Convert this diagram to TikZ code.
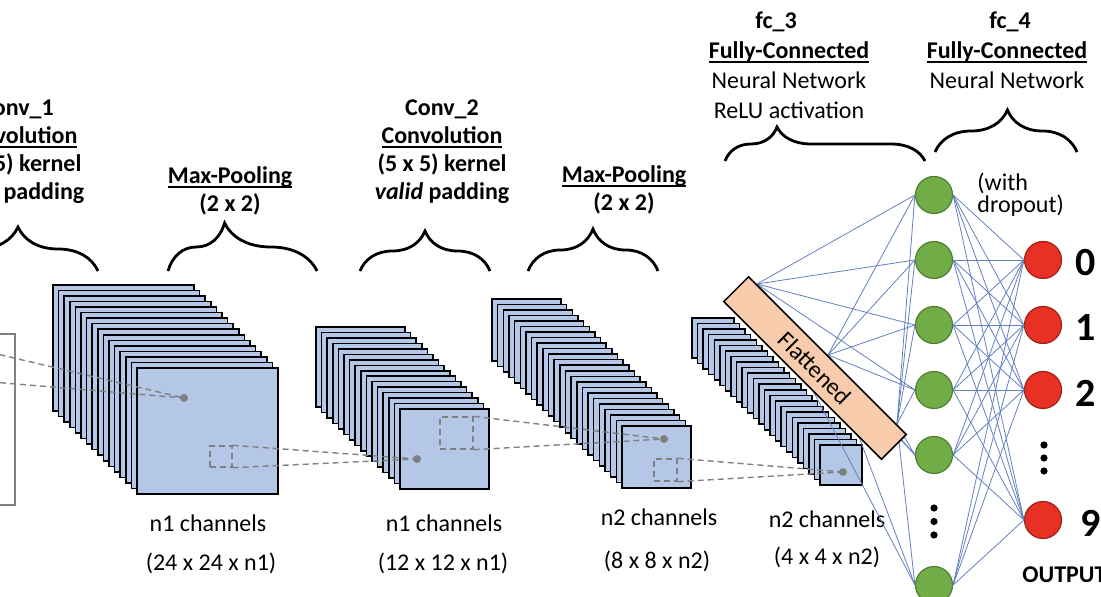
\documentclass[tikz,border=0pt]{standalone}
\usepackage{fontspec}
\setmainfont{Carlito}
\usepackage{tikz}
\usetikzlibrary{decorations.pathreplacing}

\definecolor{layerblue}{RGB}{180,199,231}
\definecolor{flatpeach}{RGB}{248,203,173}
\definecolor{nodegreen}{RGB}{112,173,71}
\definecolor{greenline}{RGB}{80,126,50}
\definecolor{nodered}{RGB}{232,48,36}
\definecolor{redline}{RGB}{160,35,25}
\definecolor{wireblue}{RGB}{98,128,192}
\definecolor{dashgray}{RGB}{128,128,128}

\newsavebox\ulbox
\newcommand{\ulined}[1]{\sbox\ulbox{#1}\rlap{\rule[-2.4pt]{\wd\ulbox}{0.9pt}}\usebox\ulbox}

\begin{document}
\begin{tikzpicture}[x=0.5pt,y=-0.5pt]
      \tikzstyle{every node}=[inner sep=0pt,font=\fontsize{12}{14}\selectfont]
      \tikzstyle{head}=[align=center,anchor=north,font=\bfseries\fontsize{12}{14}\selectfont]
      \tikzstyle{headlight}=[align=center,anchor=north,font=\fontsize{12}{15}\selectfont]
      \tikzstyle{brace}=[decorate,line width=1.4pt]
      \tikzstyle{layer}=[draw=black,fill=layerblue,line width=0.75pt]
      \tikzstyle{dot}=[circle,fill=dashgray,minimum size=4pt]
      \tikzstyle{window}=[draw=dashgray,dash pattern=on 3pt off 2pt,line width=0.7pt]
      \tikzstyle{link}=[draw=dashgray,dash pattern=on 3pt off 2pt,line width=0.7pt]
      \tikzstyle{wire}=[draw=wireblue,line width=0.4pt]
      \tikzstyle{hidden}=[circle,fill=nodegreen,draw=greenline,line width=0.6pt,minimum size=18.5pt]
      \tikzstyle{outnode}=[circle,fill=nodered,draw=redline,line width=0.6pt,minimum size=18.5pt]
      \tikzstyle{digit}=[anchor=west,font=\bfseries\fontsize{20}{20}\selectfont]

      \useasboundingbox (0,0) rectangle (1101,597);
      \clip (0,0) rectangle (1101,597);

      % headings
      \node[head] (conv1) at (17,99) {Conv\_1\\\ulined{Convolution}\\(5 x 5) kernel\\\textit{valid} padding};
      \node[head] (pool1) at (230,166) {\ulined{Max-Pooling}\\(2 x 2)};
      \node[head] (conv2) at (442,99) {Conv\_2\\\ulined{Convolution}\\(5 x 5) kernel\\\textit{valid} padding};
      \node[head] (pool2) at (624,165) {\ulined{Max-Pooling}\\(2 x 2)};
      \node[head] (fc3) at (776,11) {fc\_3};
      \node[headlight] (fc3txt) at (789,41) {\textbf{\ulined{Fully-Connected}}\\Neural Network\\ReLU activation};
      \node[head] (fc4) at (1010,11) {fc\_4};
      \node[headlight] (fc4txt) at (1007,41) {\textbf{\ulined{Fully-Connected}}\\Neural Network};
      \node[align=left,anchor=north west,font=\fontsize{12}{11}\selectfont] (drop) at (977,173) {(with\\dropout)};

      \draw[brace,decoration={brace,amplitude=22pt,aspect=0.5}] (-62,271) -- (98,271);
      \draw[brace,decoration={brace,amplitude=24pt,aspect=0.38}] (168,271) -- (317,271);
      \draw[brace,decoration={brace,amplitude=20pt,aspect=0.5}] (360,271) -- (490,271);
      \draw[brace,decoration={brace,amplitude=21pt,aspect=0.5}] (528,271) -- (658,271);
      \draw[brace,decoration={brace,amplitude=17pt,aspect=0.26}] (725,161) -- (925,161);
      \draw[brace,decoration={brace,amplitude=21pt,aspect=0.51}] (935,152) -- (1077,152);

      % input image
      \draw[draw=dashgray,fill=white,line width=0.75pt] (-150,334) rectangle (15,505);
      \coordinate (in1) at (-20,350);
      \coordinate (in2) at (-20,381);

      % feature map stacks
      \foreach \i in {0,...,15} \draw[layer] ({53+5.6*\i},{285+5.53*\i}) rectangle ++(141,126);
      \foreach \i in {0,...,15} \draw[layer] ({316+5.6*\i},{327+5.47*\i}) rectangle ++(89,80);
      \foreach \i in {0,...,23} \draw[layer] ({492+5.65*\i},{299+5.52*\i}) rectangle ++(69,62);
      \foreach \i in {0,...,23} \draw[layer] ({692+5.57*\i},{318+5.52*\i}) rectangle ++(42,40);

      \node[dot] (dot1) at (184,398) {};
      \node[dot] (dot2) at (417,459) {};
      \node[dot] (dot3) at (664,439) {};
      \node[dot] (dot4) at (843,472) {};

      \node[window,minimum width=11pt,minimum height=10.5pt] (win1) at (221,456.5) {};
      \node[window,minimum width=16.5pt,minimum height=16pt] (win2) at (456.5,433) {};
      \node[window,minimum width=11.5pt,minimum height=11pt] (win3) at (665.5,470) {};

      \draw[link] (in1) -- (dot1.center);
      \draw[link] (in2) -- (dot1.center);
      \draw[link] (win1.north east) -- (dot2.center);
      \draw[link] (win1.south east) -- (dot2.center);
      \draw[link] (win2.north east) -- (dot3.center);
      \draw[link] (win2.south east) -- (dot3.center);
      \draw[link] (win3.north east) -- (dot4.center);
      \draw[link] (win3.south east) -- (dot4.center);

      \node (lab1a) at (208,523) {n1 channels};
      \node (lab1b) at (211,563) {(24 x 24 x n1)};
      \node (lab2a) at (444,523) {n1 channels};
      \node (lab2b) at (443,563) {(12 x 12 x n1)};
      \node (lab3a) at (659,517) {n2 channels};
      \node (lab3b) at (657,561) {(8 x 8 x n2)};
      \node (lab4a) at (827,519) {n2 channels};
      \node (lab4b) at (827,557) {(4 x 4 x n2)};

      % fully connected part
      \node[hidden] (g1) at (934,195) {};
      \node[hidden] (g2) at (934,260) {};
      \node[hidden] (g3) at (934,325) {};
      \node[hidden] (g4) at (934,390) {};
      \node[hidden] (g5) at (934,455) {};
      \node[hidden] (g6) at (934,585) {};

      \node[outnode] (r0) at (1043,260) {};
      \node[outnode] (r1) at (1043,325) {};
      \node[outnode] (r2) at (1043,390) {};
      \node[outnode] (r9) at (1043,520) {};

      \fill (934,508) circle (1.8pt);
      \fill (934,521.5) circle (1.8pt);
      \fill (934,535) circle (1.8pt);
      \fill (1044,445) circle (1.8pt);
      \fill (1044,458) circle (1.8pt);
      \fill (1044,471) circle (1.8pt);

      \node[digit] (d0) at (1075,263) {0};
      \node[digit] (d1) at (1075,328) {1};
      \node[digit] (d2) at (1075,393) {2};
      \node[digit] (d9) at (1080,523) {9};
      \node[anchor=base west,font=\bfseries\fontsize{12}{14}\selectfont] (output) at (1022,582) {OUTPUT};

      \coordinate (src1) at (757,284);
      \coordinate (src2) at (828,355);
      \coordinate (src3) at (897,424);

      \draw[wire] (src1) -- (g1.west);
      \draw[wire] (src1) -- (g2.west);
      \draw[wire] (src1) -- (g3.west);
      \draw[wire] (src1) -- (g4.west);
      \draw[wire] (src1) -- (g5.west);
      \draw[wire] (src1) -- (g6.west);

      \draw[wire] (src2) -- (g1.west);
      \draw[wire] (src2) -- (g2.west);
      \draw[wire] (src2) -- (g3.west);
      \draw[wire] (src2) -- (g4.west);
      \draw[wire] (src2) -- (g5.west);
      \draw[wire] (src2) -- (g6.west);

      \draw[wire] (src3) -- (g1.west);
      \draw[wire] (src3) -- (g2.west);
      \draw[wire] (src3) -- (g3.west);
      \draw[wire] (src3) -- (g4.west);
      \draw[wire] (src3) -- (g5.west);
      \draw[wire] (src3) -- (g6.west);

      \node[draw=black,fill=flatpeach,line width=0.75pt,minimum width=111.5pt,minimum height=17.5pt,rotate=-45] (flat) at (815,368) {Flattened};

      \draw[wire] (g1.east) -- (r0.west);
      \draw[wire] (g1.east) -- (r1.west);
      \draw[wire] (g1.east) -- (r2.west);
      \draw[wire] (g1.east) -- (r9.west);

      \draw[wire] (g2.east) -- (r0.west);
      \draw[wire] (g2.east) -- (r1.west);
      \draw[wire] (g2.east) -- (r2.west);
      \draw[wire] (g2.east) -- (r9.west);

      \draw[wire] (g3.east) -- (r0.west);
      \draw[wire] (g3.east) -- (r1.west);
      \draw[wire] (g3.east) -- (r2.west);
      \draw[wire] (g3.east) -- (r9.west);

      \draw[wire] (g4.east) -- (r0.west);
      \draw[wire] (g4.east) -- (r1.west);
      \draw[wire] (g4.east) -- (r2.west);
      \draw[wire] (g4.east) -- (r9.west);

      \draw[wire] (g5.east) -- (r0.west);
      \draw[wire] (g5.east) -- (r1.west);
      \draw[wire] (g5.east) -- (r2.west);
      \draw[wire] (g5.east) -- (r9.west);

      \draw[wire] (g6.east) -- (r0.west);
      \draw[wire] (g6.east) -- (r1.west);
      \draw[wire] (g6.east) -- (r2.west);
      \draw[wire] (g6.east) -- (r9.west);

    \end{tikzpicture}
\end{document}
